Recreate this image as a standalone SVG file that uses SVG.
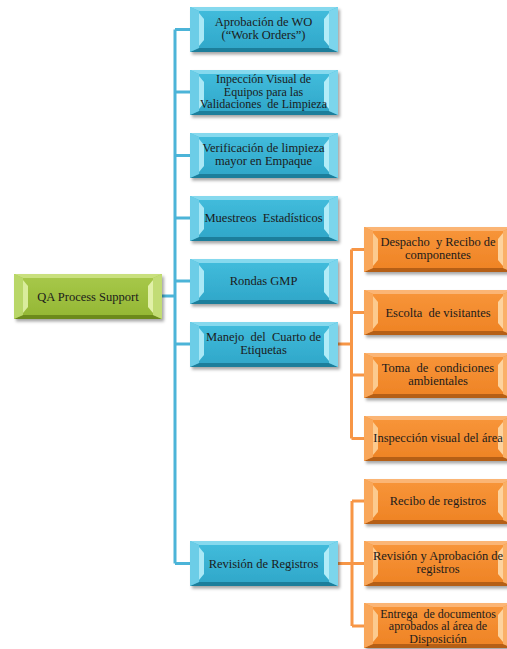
<svg xmlns="http://www.w3.org/2000/svg" width="507" height="649" viewBox="0 0 507 649">
<style>
text{font-family:"Liberation Serif","Times New Roman",serif;font-size:12.5px;fill:#1b1b1b;text-anchor:middle;white-space:pre}
text.s{font-size:12px}
.cb{fill:none;stroke:#4cb4d8;stroke-width:3}
.co{fill:none;stroke:#f79646;stroke-width:3}
</style>
<defs>
<filter id="sh" x="-10%" y="-20%" width="125%" height="150%">
<feDropShadow dx="2" dy="2.5" stdDeviation="1.5" flood-color="#000" flood-opacity="0.35"/>
</filter>
<linearGradient id="gb" x1="0" y1="0" x2="0" y2="1"><stop offset="0" stop-color="#43bddd"/><stop offset="1" stop-color="#2ea6c8"/></linearGradient>
<linearGradient id="go" x1="0" y1="0" x2="0" y2="1"><stop offset="0" stop-color="#f8963a"/><stop offset="1" stop-color="#ee8224"/></linearGradient>
<linearGradient id="gg" x1="0" y1="0" x2="0" y2="1"><stop offset="0" stop-color="#a8c94a"/><stop offset="1" stop-color="#93b634"/></linearGradient>
<symbol id="nb" width="148" height="46" overflow="visible">
<g filter="url(#sh)">
<rect width="148" height="45" fill="url(#gb)"/>
<polygon points="0,0 148,0 139,4 9,4" fill="#86d9ee"/>
<polygon points="0,45 148,45 139,41 9,41" fill="#1e7e9b"/>
<polygon points="0,0 9,4 9,41 0,45" fill="#6ccde7"/>
<polygon points="9,6 14,12 14,33 9,39" fill="#a9e8f6"/>
<polygon points="148,0 139,4 139,41 148,45" fill="#7bd5ec"/>
<polygon points="139,6 134,12 134,33 139,39" fill="#b2ecf8"/>
</g>
</symbol>
<symbol id="no" width="148" height="46" overflow="visible">
<g filter="url(#sh)">
<rect width="148" height="45" fill="url(#go)"/>
<polygon points="0,0 148,0 139,4 9,4" fill="#fbb574"/>
<polygon points="0,45 148,45 139,41 9,41" fill="#b55e14"/>
<polygon points="0,0 9,4 9,41 0,45" fill="#f9a75a"/>
<polygon points="9,6 14,12 14,33 9,39" fill="#fcca8e"/>
<polygon points="148,0 139,4 139,41 148,45" fill="#fab068"/>
<polygon points="139,6 134,12 134,33 139,39" fill="#fdd39e"/>
</g>
</symbol>
<symbol id="ng" width="148" height="46" overflow="visible">
<g filter="url(#sh)">
<rect width="148" height="45" fill="url(#gg)"/>
<polygon points="0,0 148,0 139,4 9,4" fill="#c9e07e"/>
<polygon points="0,45 148,45 139,41 9,41" fill="#6c8a1f"/>
<polygon points="0,0 9,4 9,41 0,45" fill="#b9d767"/>
<polygon points="9,6 14,12 14,33 9,39" fill="#d9ec9c"/>
<polygon points="148,0 139,4 139,41 148,45" fill="#c2dc74"/>
<polygon points="139,6 134,12 134,33 139,39" fill="#e1f0a8"/>
</g>
</symbol>
</defs>
<rect width="507" height="649" fill="#fff"/>
<g id="connectors">
<path class="cb" d="M162,296 H175 M175,29.5 V563.5 M175,29.5 H190 M175,92 H190 M175,155.5 H190 M175,218 H190 M175,281 H190 M175,344 H190 M175,563.5 H190"/>
<path class="co" d="M337,344 H351.5 M351.5,249.5 V438.5 M351.5,249.5 H364 M351.5,312.5 H364 M351.5,375 H364 M351.5,438.5 H364"/>
<path class="co" d="M337,563.5 H352 M352,501 V626 M352,501 H364 M352,563.5 H364 M352,626 H364"/>
</g>
<g id="root"><use href="#ng" x="14" y="274"/><text x="88" y="300.5">QA Process Support</text></g>
<g id="n1"><use href="#nb" x="190" y="7"/><text x="263.5" y="26">Aprobación de WO</text><text x="263.5" y="39">(“Work Orders”)</text></g>
<g id="n2"><use href="#nb" x="190" y="70"/><text class="s" x="263.5" y="83">Inpección Visual de</text><text class="s" x="263.5" y="95.5">Equipos para las</text><text class="s" x="263.5" y="108">Validaciones  de Limpieza</text></g>
<g id="n3"><use href="#nb" x="190" y="133"/><text x="263.5" y="152">Verificación de limpieza</text><text x="263.5" y="165">mayor en Empaque</text></g>
<g id="n4"><use href="#nb" x="190" y="196"/><text x="263.5" y="222">Muestreos  Estadísticos</text></g>
<g id="n5"><use href="#nb" x="190" y="259"/><text x="263.5" y="285">Rondas GMP</text></g>
<g id="n6"><use href="#nb" x="190" y="322"/><text x="263.5" y="341">Manejo  del  Cuarto de</text><text x="263.5" y="354">Etiquetas</text></g>
<g id="n7"><use href="#nb" x="190" y="541"/><text x="263.5" y="567.5">Revisión de Registros</text></g>
<g id="o1"><use href="#no" x="364" y="227"/><text x="438" y="246">Despacho  y Recibo de</text><text x="438" y="259">componentes</text></g>
<g id="o2"><use href="#no" x="364" y="290"/><text x="438" y="316.5">Escolta  de visitantes</text></g>
<g id="o3"><use href="#no" x="364" y="353"/><text x="438" y="372">Toma  de  condiciones</text><text x="438" y="385">ambientales</text></g>
<g id="o4"><use href="#no" x="364" y="416"/><text x="438" y="442">Inspección visual del área</text></g>
<g id="o5"><use href="#no" x="364" y="479"/><text x="438" y="505">Recibo de registros</text></g>
<g id="o6"><use href="#no" x="364" y="541"/><text x="438" y="560">Revisión y Aprobación de</text><text x="438" y="573">registros</text></g>
<g id="o7"><use href="#no" x="364" y="603"/><text class="s" x="438" y="617.5">Entrega  de documentos</text><text class="s" x="438" y="630">aprobados al área de</text><text class="s" x="438" y="642.5">Disposición</text></g>
</svg>
